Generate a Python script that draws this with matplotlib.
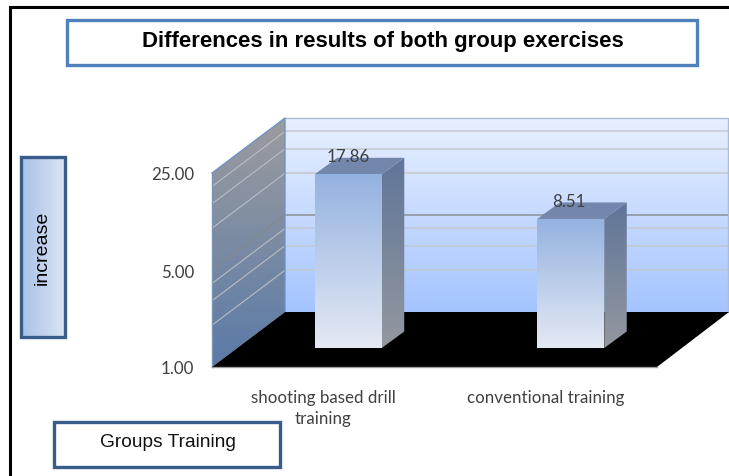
"""
plot.py
Oblique 3D-look bar chart on a base-5 log axis, with boxed title and axis labels.
Pixel layout is kept in a full-figure overlay axes, values go through a log axes.
"""
import matplotlib
matplotlib.use("Agg")
import matplotlib.pyplot as plt
import numpy as np
from matplotlib.colors import LinearSegmentedColormap
from matplotlib.patches import Polygon, Rectangle

W, H = 729, 477

# Data
CATEGORIES = ["shooting based drill\ntraining", "conventional training"]
VALUES = [17.86, 8.51]
VALUE_LABELS = ["17.86", "8.51"]
Y_TICKS = [1, 5, 25]
Y_TICK_LABELS = ["1.00", "5.00", "25.00"]
MINOR_GRID = [2, 3, 4, 10, 15, 20]
MAJOR_GRID = [5]

TITLE = "Differences in results of both group exercises"
Y_TITLE = "increase"
X_TITLE = "Groups Training"

# Layout in pixels
PLOT_L, PLOT_R, PLOT_T, PLOT_B = 212, 657, 174, 368
WALL_DX, WALL_DY = 72, 55
BAR_W = 67
BAR_SHIFT_X, BAR_SHIFT_Y = 25, 19
BAR_DX, BAR_DY = 22.5, 16.5

LABEL_FONT = "Lato"
BOX_FONT = "Liberation Sans"
LABEL_COLOR = "#404040"
LABEL_SIZE = 12.2


def gradient(ax, pts, c0, c1, horizontal=False, zorder=2):
    """Fill polygon pts with a linear gradient, top to bottom by default."""
    pts = np.asarray(pts, dtype=float)
    cmap = LinearSegmentedColormap.from_list("g", [c0, c1])
    ramp = np.linspace(0, 1, 256)
    ramp = ramp.reshape(1, -1) if horizontal else ramp.reshape(-1, 1)
    extent = [pts[:, 0].min(), pts[:, 0].max(), pts[:, 1].max(), pts[:, 1].min()]
    im = ax.imshow(ramp, cmap=cmap, extent=extent, aspect="auto",
                   origin="upper", zorder=zorder, interpolation="bilinear")
    clip = Polygon(pts, closed=True, transform=ax.transData)
    im.set_clip_path(clip)


def main():
    fig = plt.figure(figsize=(W / 100, H / 100), dpi=100, facecolor="white")

    # Value axes sits on the front plane of the box
    val_ax = fig.add_axes([PLOT_L / W, (H - PLOT_B) / H,
                           (PLOT_R - PLOT_L) / W, (PLOT_B - PLOT_T) / H])
    val_ax.patch.set_visible(False)
    val_ax.set_yscale("log", base=5)
    val_ax.set_ylim(1, 25)
    val_ax.set_xlim(-0.5, 1.5)
    val_ax.set_yticks(Y_TICKS)
    val_ax.set_yticklabels(Y_TICK_LABELS, family=LABEL_FONT, fontsize=LABEL_SIZE,
                           color=LABEL_COLOR)
    val_ax.minorticks_off()
    val_ax.set_xticks(range(len(CATEGORIES)))
    val_ax.set_xticklabels(CATEGORIES, family=LABEL_FONT, fontsize=LABEL_SIZE,
                           color=LABEL_COLOR, linespacing=1.42)
    val_ax.tick_params(axis="y", length=0, pad=13)
    val_ax.tick_params(axis="x", length=0, pad=15.5)
    for spine in val_ax.spines.values():
        spine.set_visible(False)

    # Overlay in pixel coordinates, y pointing down
    ax = fig.add_axes([0, 0, 1, 1], zorder=-1)
    ax.set_axis_off()

    def px_y(v):
        return H - val_ax.transData.transform((0, v))[1]

    def px_x(i):
        return val_ax.transData.transform((i, 1))[0]

    back_l, back_r = PLOT_L + WALL_DX + 1, PLOT_R + WALL_DX - 1
    back_t, back_b = PLOT_T - WALL_DY, PLOT_B - WALL_DY

    # Back wall and side wall
    gradient(ax, [(back_l, back_t), (back_r, back_t), (back_r, back_b), (back_l, back_b)],
             "#e8f0ff", "#a4c4ff", zorder=1)
    gradient(ax, [(PLOT_L, PLOT_T), (back_l, back_t), (back_l, back_b), (PLOT_L, PLOT_B)],
             "#9c9c9e", "#5a7aa8", zorder=1)

    # Grid
    for values, color, side in [(MINOR_GRID, "#c4c8cf", "#b9bdc4"),
                                (MAJOR_GRID, "#8c8f96", "#85878c")]:
        for v in values:
            y = px_y(v)
            ax.plot([back_l, back_r], [y - WALL_DY, y - WALL_DY], color=color,
                    lw=1.1, zorder=2, solid_capstyle="butt")
            ax.plot([PLOT_L, back_l], [y, y - WALL_DY], color=side,
                    lw=0.8, zorder=2, solid_capstyle="butt")

    # Wall edges
    ax.plot([back_l, back_r, back_r], [back_t, back_t, back_b], color="#a8bcd6", lw=1, zorder=2)
    ax.plot([PLOT_L, back_l, back_l], [PLOT_T, back_t, back_b], color="#6e94c8", lw=1, zorder=2)
    ax.plot([PLOT_L, PLOT_L], [PLOT_T, PLOT_B], color="#7d93b4", lw=1, zorder=3)

    # Floor
    ax.add_patch(Polygon([(PLOT_L, PLOT_B), (PLOT_R, PLOT_B), (back_r + 1, back_b), (back_l, back_b)],
                         closed=True, facecolor="black", edgecolor="none", zorder=3))
    ax.plot([PLOT_L, PLOT_R], [PLOT_B, PLOT_B], color="#9a9a9a", lw=1, zorder=3)

    # Bars
    base = PLOT_B - BAR_SHIFT_Y
    for i, (v, lbl) in enumerate(zip(VALUES, VALUE_LABELS)):
        x0 = px_x(i) + BAR_SHIFT_X - BAR_W / 2
        x1 = x0 + BAR_W
        top = px_y(v) - BAR_SHIFT_Y
        # right side
        gradient(ax, [(x1, top), (x1 + BAR_DX, top - BAR_DY),
                      (x1 + BAR_DX, base - BAR_DY), (x1, base)],
                 "#5f7598", "#94989f", zorder=4)
        # top
        ax.add_patch(Polygon([(x0, top), (x0 + BAR_DX, top - BAR_DY),
                              (x1 + BAR_DX, top - BAR_DY), (x1, top)],
                             closed=True, facecolor="#7387ad", edgecolor="none", zorder=5))
        # front
        gradient(ax, [(x0, top), (x1, top), (x1, base), (x0, base)],
                 "#94b2e0", "#e4e9f4", zorder=5)
        ax.text(x0 + BAR_W / 2 + (0 if i == 0 else -1.5), top - 18, lbl, ha="center", va="center",
                family=LABEL_FONT, fontsize=LABEL_SIZE, color=LABEL_COLOR, zorder=6)

    # Picture frame
    ax.plot([10, 10, W], [H, 8, 8], color="black", lw=2.2, zorder=6,
            solid_joinstyle="miter")

    # Title box
    ax.add_patch(Rectangle((67.5, 20.5), 630, 45, facecolor="white",
                           edgecolor="#4f81bd", lw=2.4, zorder=6))
    ax.text(382.5, 41.5, TITLE, ha="center", va="center", family=BOX_FONT,
            fontweight="bold", fontsize=15.9, color="black", zorder=7)

    # Y title box
    gradient(ax, [(21, 157), (66, 157), (66, 338), (21, 338)],
             "#a8c0e8", "#dce6f4", horizontal=True, zorder=6)
    ax.add_patch(Rectangle((21.5, 157.5), 43.5, 180, facecolor="none",
                           edgecolor="#385d8a", lw=2.4, zorder=7))
    ax.text(42.5, 248, Y_TITLE, ha="center", va="center", rotation=90,
            family=BOX_FONT, fontsize=14, color="black", zorder=8)

    # X title box
    ax.add_patch(Rectangle((54, 423), 226, 45, facecolor="white",
                           edgecolor="#385d8a", lw=2.4, zorder=6))
    ax.text(167.5, 442.5, X_TITLE, ha="center", va="center", family=BOX_FONT,
            fontsize=13.8, color="#111111", zorder=7)

    ax.set_xlim(0, W)
    ax.set_ylim(H, 0)

    fig.savefig("out.png", dpi=100, facecolor="white")


if __name__ == "__main__":
    main()
